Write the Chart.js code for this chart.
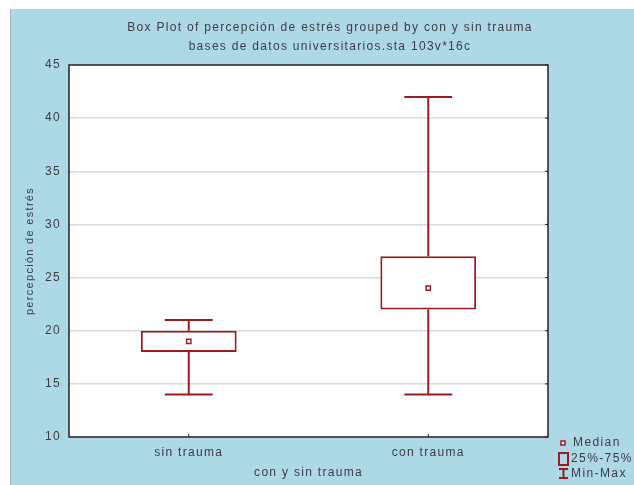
<!DOCTYPE html>
<html>
<head>
<meta charset="utf-8">
<script src="https://cdn.jsdelivr.net/npm/chart.js@4.4.1/dist/chart.umd.min.js"></script>
<style>
  html, body { margin: 0; padding: 0; background: #ffffff; }
  canvas { display: block; }
</style>
</head>
<body>
<canvas id="boxChart" width="634" height="485"></canvas>
<script>
// data
const categories = ["sin trauma", "con trauma"];
const minValues = [14, 14];
const q1Values = [18, 22];
const medianValues = [19, 24];
const q3Values = [20, 27];
const maxValues = [21, 42];
const yTicks = [10, 15, 20, 25, 30, 35, 40, 45];
const titleLines = [
  "Box Plot of percepción de estrés grouped by con y sin trauma",
  "bases de datos universitarios.sta 103v*16c",
];
const legendLabels = ["Median", "25%-75%", "Min-Max"];

const boxColor = "#9a1c20";
const textColor = "#3c3c46";
const fontFamily = "'Liberation Sans', Arial, sans-serif";

// light blue panel + white plot area, title on top
const panelPlugin = {
  id: "panel",
  beforeDraw(chart) {
    const ctx = chart.ctx;
    const area = chart.chartArea;
    ctx.save();
    ctx.fillStyle = "#ffffff";
    ctx.fillRect(0, 0, chart.width, chart.height);
    ctx.fillStyle = "#add8e6";
    ctx.fillRect(11, 9, chart.width - 11, chart.height - 9);
    ctx.strokeStyle = "#a9b4b8";
    ctx.lineWidth = 1;
    ctx.beginPath();
    ctx.moveTo(10.5, 9);
    ctx.lineTo(10.5, chart.height);
    ctx.stroke();
    ctx.fillStyle = "#ffffff";
    ctx.fillRect(area.left, area.top, area.right - area.left, area.bottom - area.top);

    ctx.fillStyle = textColor;
    ctx.font = "12px " + fontFamily;
    ctx.letterSpacing = "1.3px";
    ctx.textAlign = "center";
    ctx.textBaseline = "middle";
    ctx.fillText(titleLines[0], 330, 28);
    ctx.fillText(titleLines[1], 330, 47);
    ctx.restore();
    // the reference text is spaced out, keep that for the axis labels too
    ctx.letterSpacing = "1.3px";
  },
};

// whiskers and caps, drawn through the scales
const whiskerPlugin = {
  id: "whiskers",
  afterDatasetsDraw(chart) {
    const ctx = chart.ctx;
    const x = chart.scales.x;
    const y = chart.scales.y;
    const boxMeta = chart.getDatasetMeta(0);
    ctx.save();
    ctx.strokeStyle = boxColor;
    ctx.lineWidth = 2;
    categories.forEach((cat, i) => {
      const cx = x.getPixelForValue(i);
      const half = boxMeta.data[i].width / 4;
      const yMin = y.getPixelForValue(minValues[i]);
      const yMax = y.getPixelForValue(maxValues[i]);
      const yQ1 = y.getPixelForValue(q1Values[i]);
      const yQ3 = y.getPixelForValue(q3Values[i]);
      ctx.beginPath();
      ctx.moveTo(cx, yQ1);
      ctx.lineTo(cx, yMin);
      ctx.moveTo(cx - half, yMin);
      ctx.lineTo(cx + half, yMin);
      ctx.moveTo(cx, yQ3);
      ctx.lineTo(cx, yMax);
      ctx.moveTo(cx - half, yMax);
      ctx.lineTo(cx + half, yMax);
      ctx.stroke();
    });
    ctx.restore();
  },
};

// black frame round the plot, small ticks, and the legend at bottom right
const framePlugin = {
  id: "frame",
  afterDraw(chart) {
    const ctx = chart.ctx;
    const area = chart.chartArea;
    const x = chart.scales.x;
    const y = chart.scales.y;
    ctx.save();
    ctx.strokeStyle = "#222222";
    ctx.lineWidth = 1.5;
    ctx.strokeRect(area.left, area.top, area.right - area.left, area.bottom - area.top);
    ctx.lineWidth = 1;
    ctx.beginPath();
    yTicks.forEach((v) => {
      const py = y.getPixelForValue(v);
      ctx.moveTo(area.right - 3, py);
      ctx.lineTo(area.right, py);
    });
    categories.forEach((c, i) => {
      const px = x.getPixelForValue(i);
      ctx.moveTo(px, area.bottom);
      ctx.lineTo(px, area.bottom - 3);
    });
    ctx.stroke();

    // legend
    ctx.strokeStyle = boxColor;
    ctx.fillStyle = "#ffffff";
    ctx.lineWidth = 1.5;
    ctx.fillRect(561, 441, 4, 4);
    ctx.strokeRect(561, 441, 4, 4);
    ctx.lineWidth = 2;
    ctx.strokeRect(559, 453, 9, 12);
    ctx.beginPath();
    ctx.moveTo(559, 469);
    ctx.lineTo(568, 469);
    ctx.moveTo(563.5, 469);
    ctx.lineTo(563.5, 478);
    ctx.moveTo(559, 478);
    ctx.lineTo(568, 478);
    ctx.stroke();
    ctx.fillStyle = textColor;
    ctx.font = "12px " + fontFamily;
    ctx.letterSpacing = "1.4px";
    ctx.textBaseline = "middle";
    ctx.textAlign = "left";
    ctx.fillText(legendLabels[0], 573, 443);
    ctx.fillText(legendLabels[1], 571, 459);
    ctx.fillText(legendLabels[2], 571, 474);
    ctx.restore();
  },
};

const ctx = document.getElementById("boxChart").getContext("2d");

new Chart(ctx, {
  data: {
    labels: categories,
    datasets: [
      {
        type: "bar",
        label: "25%-75%",
        order: 1,
        data: categories.map((c, i) => [q1Values[i], q3Values[i]]),
        backgroundColor: "#ffffff",
        borderColor: boxColor,
        borderWidth: 2,
        borderSkipped: false,
        barPercentage: 0.4,
        categoryPercentage: 1,
      },
      {
        type: "line",
        label: "Median",
        order: 0,
        data: medianValues,
        showLine: false,
        pointStyle: "rect",
        pointRadius: 3,
        pointBorderWidth: 1.5,
        pointBackgroundColor: "#ffffff",
        pointBorderColor: boxColor,
      },
    ],
  },
  options: {
    responsive: false,
    animation: false,
    layout: {
      padding: { left: 11, top: 65, right: 86, bottom: 0 },
    },
    plugins: {
      legend: { display: false },
      tooltip: { enabled: false },
      title: { display: false },
    },
    scales: {
      x: {
        type: "category",
        afterFit(scale) {
          scale.height = 48;
        },
        grid: { display: false, drawTicks: false },
        border: { display: false },
        ticks: {
          color: textColor,
          font: { family: fontFamily, size: 12 },
          padding: 8,
          maxRotation: 0,
        },
        title: {
          display: true,
          text: "con y sin trauma",
          color: textColor,
          font: { family: fontFamily, size: 12 },
          padding: { top: 0, bottom: 5 },
        },
      },
      y: {
        type: "linear",
        min: 10,
        max: 45,
        afterFit(scale) {
          scale.width = 58;
        },
        afterBuildTicks(scale) {
          scale.ticks = yTicks.map((v) => ({ value: v }));
        },
        grid: {
          color: (c) => (c.tick.value === 10 || c.tick.value === 45 ? "rgba(0,0,0,0)" : "#d9d9d9"),
          lineWidth: 1.5,
          drawTicks: false,
        },
        border: { display: false },
        ticks: {
          color: textColor,
          font: { family: fontFamily, size: 12 },
          padding: 8,
        },
        title: {
          display: true,
          text: "percepción de estrés",
          color: textColor,
          font: { family: fontFamily, size: 11 },
          padding: { top: 12, bottom: 0 },
        },
      },
    },
  },
  plugins: [panelPlugin, whiskerPlugin, framePlugin],
});
</script>
</body>
</html>
